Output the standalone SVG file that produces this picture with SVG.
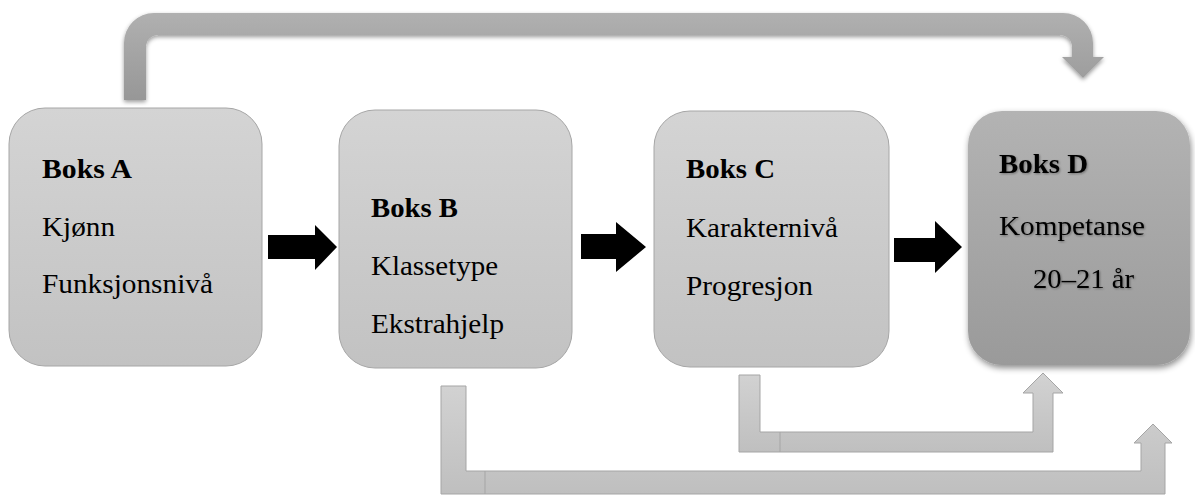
<svg xmlns="http://www.w3.org/2000/svg" width="1195" height="495" viewBox="0 0 1195 495">
  <defs>
    <linearGradient id="gLight" x1="0" y1="0" x2="0" y2="1">
      <stop offset="0" stop-color="#d4d4d4"/>
      <stop offset="1" stop-color="#c2c2c2"/>
    </linearGradient>
    <linearGradient id="gDark" x1="0" y1="0" x2="0" y2="1">
      <stop offset="0" stop-color="#b3b3b3"/>
      <stop offset="1" stop-color="#9a9a9a"/>
    </linearGradient>
    <linearGradient id="gTop" x1="0" y1="0" x2="0" y2="1">
      <stop offset="0" stop-color="#b0b0b0"/>
      <stop offset="1" stop-color="#979797"/>
    </linearGradient>
    <linearGradient id="gBot" x1="0" y1="0" x2="0" y2="1">
      <stop offset="0" stop-color="#d2d2d2"/>
      <stop offset="1" stop-color="#bfbfbf"/>
    </linearGradient>
    <filter id="shadow" x="-10%" y="-10%" width="120%" height="130%">
      <feDropShadow dx="0" dy="2" stdDeviation="2" flood-color="#000" flood-opacity="0.4"/>
    </filter>
    <filter id="shadowD" x="-10%" y="-10%" width="125%" height="125%">
      <feDropShadow dx="1" dy="3" stdDeviation="3" flood-color="#000" flood-opacity="0.45"/>
    </filter>
    <filter id="txtShadow" x="-5%" y="-20%" width="110%" height="140%">
      <feDropShadow dx="1" dy="1" stdDeviation="1" flood-color="#000" flood-opacity="0.35"/>
    </filter>
  </defs>
  <style>
    .box { fill: url(#gLight); stroke: #a6a6a6; stroke-width: 1; }
    .boxD { fill: url(#gDark); filter: url(#shadowD); }
    text { font-family: 'Liberation Serif', 'Times New Roman', serif; font-size: 28px; fill: #000; }
    .b { font-weight: bold; }
    .blk { fill: #000; }
    .bent { fill: url(#gBot); stroke: #a5a5a5; stroke-width: 1; }
    .seam { stroke: #a5a5a5; stroke-width: 1; fill: none; }
    .topc { fill: url(#gTop); filter: url(#shadow); }
  </style>

  <g id="connectors">
    <path class="topc" d="M124,100 L124,43 A30,30 0 0 1 154,13 L1063,13 A30,30 0 0 1 1093,43 L1093,57 L1104,57 L1083,78 L1062,57 L1072,57 L1072,47 A12,12 0 0 0 1060,35 L158,35 A12,12 0 0 0 146,47 L146,100 Z"/>
    <polygon class="blk" points="268,235 315,235 315,225 337,247 315,270 315,259 268,259"/>
    <polygon class="blk" points="581,234 616,234 616,222 646,247 616,272 616,259 581,259"/>
    <polygon class="blk" points="894,238 935,238 935,221 962,247 935,273 935,262 894,262"/>
    <path class="bent" d="M441,386 L466,386 L466,471 L1141,471 L1141,443 L1134,443 L1153,424 L1172,443 L1165,443 L1165,494 L441,494 Z"/>
    <line class="seam" x1="485" y1="471" x2="485" y2="494"/>
    <path class="bent" d="M739,375 L760,375 L760,432 L1033,432 L1033,393 L1023,393 L1043,373 L1063,393 L1053,393 L1053,452 L739,452 Z"/>
    <line class="seam" x1="780" y1="432" x2="780" y2="452"/>
  </g>

  <g id="boxA">
    <rect class="box" x="9" y="108" width="253" height="258" rx="36" ry="36"/>
    <text class="b" x="42" y="178" textLength="90" lengthAdjust="spacingAndGlyphs">Boks A</text>
    <text x="42" y="236" textLength="73" lengthAdjust="spacingAndGlyphs">Kjønn</text>
    <text x="42" y="293" textLength="171" lengthAdjust="spacingAndGlyphs">Funksjonsnivå</text>
  </g>

  <g id="boxB">
    <rect class="box" x="339" y="110" width="233" height="258" rx="36" ry="36"/>
    <text class="b" x="371" y="217" textLength="87" lengthAdjust="spacingAndGlyphs">Boks B</text>
    <text x="371" y="275" textLength="127" lengthAdjust="spacingAndGlyphs">Klassetype</text>
    <text x="371" y="333" textLength="133" lengthAdjust="spacingAndGlyphs">Ekstrahjelp</text>
  </g>

  <g id="boxC">
    <rect class="box" x="654" y="111" width="235" height="256" rx="36" ry="36"/>
    <text class="b" x="686" y="178" textLength="89" lengthAdjust="spacingAndGlyphs">Boks C</text>
    <text x="686" y="237" textLength="152" lengthAdjust="spacingAndGlyphs">Karakternivå</text>
    <text x="686" y="295" textLength="127" lengthAdjust="spacingAndGlyphs">Progresjon</text>
  </g>

  <g id="boxD">
    <rect class="boxD" x="968" y="111" width="222" height="254" rx="34" ry="34"/>
    <g filter="url(#txtShadow)">
      <text class="b" x="999" y="173" textLength="89" lengthAdjust="spacingAndGlyphs">Boks D</text>
      <text x="999" y="235" textLength="146" lengthAdjust="spacingAndGlyphs">Kompetanse</text>
      <text x="1033" y="288" textLength="101" lengthAdjust="spacingAndGlyphs">20–21 år</text>
    </g>
  </g>
</svg>
